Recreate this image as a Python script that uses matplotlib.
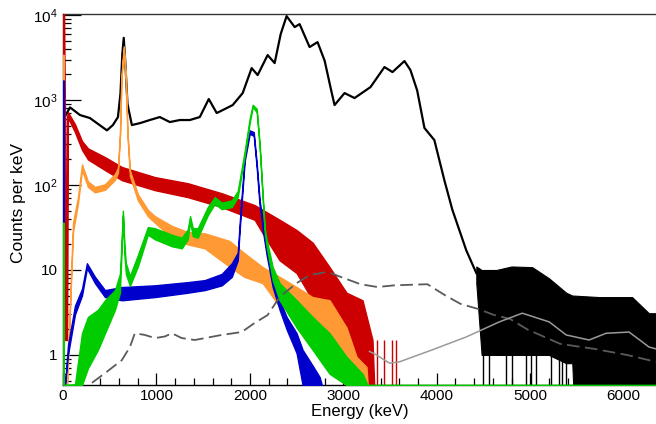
import numpy as np
import matplotlib
matplotlib.use('Agg')
import matplotlib.pyplot as plt
from matplotlib.ticker import FixedLocator, LogLocator, FuncFormatter, NullFormatter

plt.rcParams['font.family'] = ['Liberation Sans', 'DejaVu Sans']
plt.rcParams['mathtext.fontset'] = 'custom'
plt.rcParams['mathtext.rm'] = 'Liberation Sans'

# -- Spectra (energy in keV, counts per keV) --
# smooth part of the summed spectrum
black_e = [0, 75, 182, 288, 470, 534, 588, 615, 635, 650, 665, 690, 737, 823, 929,
           1036, 1143, 1250, 1357, 1464, 1560, 1645, 1816, 1923, 2019, 2083, 2190,
           2265, 2330, 2393, 2479, 2532, 2639, 2724, 2800, 2870, 2906, 3013, 3120,
           3291, 3440, 3526, 3654, 3718, 3790, 3868, 3974, 4081, 4167, 4316, 4423]
black_c = [580, 820, 666, 614, 440, 508, 630, 1200, 3500, 5400, 3000, 900, 508, 535,
           582, 631, 551, 582, 582, 631, 1028, 703, 873, 1208, 2378, 1968, 3383,
           2724, 6000, 9730, 7230, 7830, 4205, 4810, 2900, 1300, 873, 1208, 1056,
           1422, 2445, 2135, 2877, 2255, 1300, 469, 338, 114, 51, 17, 9.2]
# noisy high-energy tail of the summed spectrum
black_tail_e = [4423, 4480, 4637, 4800, 5021, 5200, 5385, 5450, 5460, 5737, 6090, 6270, 6346]
black_tail_lo = [7, 1, 1, 1, 1, 1, 0.8, 0.8, 0, 0, 0, 0, 0]
black_tail_hi = [11, 10, 10, 11, 10.8, 8, 5.4, 5, 5, 4.8, 4.8, 3.1, 3.1]
# empty bins inside the tail
black_zero_e = [4490, 4560, 4744, 4808, 4957, 5010, 5064, 5224, 5310, 5342, 5385]

red_e = [0, 8, 8, 42, 42, 53, 128, 203, 267, 449, 630, 983, 1335, 1699, 2051, 2137,
         2318, 2500, 2671, 2853, 3034, 3205, 3312, 3330]
red_lo = [0, 0, 1.5, 1.5, 1.5, 620, 420, 260, 200, 150, 114, 87, 72, 55, 39, 27,
          13, 9.2, 4.4, 2.1, 1.05, 0, 0, 0]
red_hi = [3e4, 3e4, 3e4, 1.5, 620, 720, 520, 330, 270, 213, 163, 124, 105, 80, 58, 51,
          39, 29.5, 21, 10.8, 5.4, 4.4, 1.5, 0]
red_spike_e = [3355, 3440, 3525, 3565]
red_spike_c = [1.5, 1.5, 1.5, 1.5]

orange_e = [0, 8, 8, 43, 107, 160, 203, 267, 342, 449, 556, 588, 610, 625, 650, 672,
            690, 716, 801, 908, 983, 1165, 1335, 1517, 1780, 1940, 2137, 2318, 2500,
            2671, 2853, 3034, 3141, 3248, 3260]
orange_lo = [0, 0, 0, 0, 28, 60, 150, 95, 82, 88, 115, 140, 380, 1700, 4000, 1700,
             380, 128, 66, 43, 36, 24, 20, 18, 11, 8.3, 7, 3.7, 3.1, 1.8, 1.05, 0.6,
             0, 0, 0]
orange_hi = [3400, 3400, 0, 0, 36, 72, 175, 110, 95, 102, 135, 160, 420, 1900, 4300,
             1900, 420, 148, 78, 51, 43, 33, 28, 27, 22, 15.8, 10.8, 8.3, 6.3, 4.8,
             4.4, 2.1, 0.95, 0.72, 0]

blue_e = [0, 8, 8, 21, 53, 128, 203, 256, 342, 449, 630, 983, 1335, 1517, 1699, 1806,
          1870, 1891, 1944, 1998, 2041, 2073, 2105, 2126, 2137, 2179, 2244, 2318, 2393,
          2500, 2564, 2671, 2746, 2770]
blue_lo = [0, 0, 0, 0, 1.0, 3.0, 5.0, 10.5, 7.0, 4.8, 4.4, 4.8, 5.4, 5.8, 6.6, 8.3,
           13, 30, 190, 400, 380, 160, 55, 40, 30, 15, 6.3, 3.4, 2.0, 1.05, 0, 0, 0, 0]
blue_hi = [1700, 1700, 0, 0, 1.3, 3.8, 6.0, 12, 8.3, 5.8, 6.3, 6.6, 7.2, 7.6, 9.0, 12,
           16, 36, 220, 440, 420, 180, 65, 46, 34, 17, 8.3, 4.4, 2.8, 1.8, 1.15, 0.75,
           0.55, 0]

green_e = [0, 8, 8, 128, 203, 267, 374, 449, 556, 609, 625, 641, 657, 673, 716, 801,
           908, 983, 1165, 1271, 1335, 1360, 1389, 1442, 1549, 1624, 1699, 1806, 1870,
           1944, 1998, 2030, 2073, 2105, 2126, 2158, 2179, 2244, 2318, 2500, 2671,
           2853, 3034, 3205, 3259, 6346]
green_lo = [0, 0, 0, 0, 0, 0.7, 1.15, 1.8, 3.4, 5.4, 15, 44, 15, 9, 6.5, 11, 26, 23,
            19, 18, 23, 37, 25, 24, 44, 60, 52, 55, 72, 220, 540, 830, 720, 270, 110,
            28, 19, 7.6, 4.4, 2.1, 1.15, 0.6, 0, 0, 0, 0]
green_hi = [36, 36, 0, 0.45, 1.8, 2.8, 3.4, 4.4, 5.8, 9, 20, 50, 20, 12, 8.5, 15, 32,
            31, 26, 24, 30, 43, 31, 31, 55, 72, 62, 66, 85, 250, 610, 880, 790, 300,
            120, 32, 23, 10.8, 7, 4.4, 2.8, 1.8, 0.95, 0.6, 0, 0]

dash_e = [310, 449, 630, 716, 769, 876, 983, 1090, 1165, 1271, 1410, 1699, 1912, 2051,
          2190, 2318, 2500, 2639, 2831, 2970, 3184, 3365, 3547, 3900, 4081, 4252,
          4434, 4615, 4786, 4968, 5321, 5684, 6036, 6346]
dash_c = [0.47, 0.61, 0.87, 1.24, 1.8, 1.72, 1.58, 1.65, 1.8, 1.58, 1.5, 1.72, 1.86,
          2.38, 2.95, 4.8, 7.0, 8.7, 9.5, 8.3, 6.8, 6.3, 6.6, 6.8, 5.1, 4.0, 3.5, 2.95,
          2.65, 2.0, 1.35, 1.18, 1.0, 0.83]

solid_e = [3280, 3355, 3494, 3600, 3953, 4316, 4669, 4915, 5203, 5385, 5630, 5812,
           6058, 6271, 6346]
solid_c = [1.1, 1.0, 0.8, 0.83, 1.15, 1.63, 2.45, 3.1, 2.45, 1.72, 1.5, 1.8, 1.86,
           1.24, 1.18]

XMAX = 6346
YMIN, YMAX = 0.443, 1.03e4

COL_BLACK = '#000000'
COL_RED = '#cc0000'
COL_ORANGE = '#ff9933'
COL_GREEN = '#00cc00'
COL_BLUE = '#0000cc'


def floor(v):
    # empty bins sit on the lower frame
    return np.maximum(np.asarray(v, dtype=float), YMIN)


def band(ax, e, lo, hi, color, z, lw=1.0):
    ax.fill_between(e, floor(lo), floor(hi), facecolor=color, edgecolor=color,
                    linewidth=lw, zorder=z)


fig = plt.figure(figsize=(6.56, 4.24), dpi=100)
ax = fig.add_axes([63 / 656, 39 / 424, 1 - 63 / 656, 371 / 424])

ax.plot(black_e, black_c, color=COL_BLACK, lw=1.6, zorder=3)
band(ax, black_tail_e, black_tail_lo, black_tail_hi, COL_BLACK, 3, lw=0.8)
ax.vlines(black_zero_e, YMIN, 1.0, color=COL_BLACK, lw=1.0, zorder=3)
band(ax, red_e, red_lo, red_hi, COL_RED, 4)
ax.vlines(red_spike_e, YMIN, red_spike_c, color=COL_RED, lw=1.0, zorder=4)
band(ax, orange_e, orange_lo, orange_hi, COL_ORANGE, 5)
band(ax, blue_e, blue_lo, blue_hi, COL_BLUE, 6)
band(ax, green_e, green_lo, green_hi, COL_GREEN, 7)
ax.plot(dash_e, floor(dash_c), color='#5a5a5a', lw=1.3, ls=(0, (7, 3)), zorder=8)
ax.plot(solid_e, solid_c, color='#9a9a9a', lw=1.1, zorder=8)

ax.set_yscale('log')
ax.set_xlim(0, XMAX)
ax.set_ylim(YMIN, YMAX)

ax.xaxis.set_major_locator(FixedLocator(np.arange(0, 7000, 1000)))
ax.xaxis.set_minor_locator(FixedLocator(np.arange(0, 6400, 200)))
ax.yaxis.set_major_locator(LogLocator(base=10, numticks=10))
ax.yaxis.set_minor_locator(LogLocator(base=10, subs=np.arange(2, 10), numticks=20))
ax.yaxis.set_minor_formatter(NullFormatter())


def ylab(v, pos):
    if v < 5:
        return '1'
    if v < 50:
        return '10'
    return r'$\mathregular{10^{%d}}$' % round(np.log10(v))


ax.yaxis.set_major_formatter(FuncFormatter(ylab))

ax.tick_params(axis='x', which='major', direction='in', length=8.5, width=0.9,
               labelsize=11, pad=3, top=False)
ax.tick_params(axis='x', which='minor', direction='in', length=5, width=0.9, top=False)
ax.tick_params(axis='y', which='major', direction='in', length=13, width=0.9,
               labelsize=11, pad=4, right=False)
ax.tick_params(axis='y', which='minor', direction='in', length=6, width=0.9, right=False)

ax.spines['right'].set_visible(False)
for s in ('left', 'bottom', 'top'):
    ax.spines[s].set_linewidth(1.0)
    ax.spines[s].set_zorder(2)
ax.spines['top'].set_color('#333333')

ax.set_xlabel('Energy (keV)', fontsize=12)
ax.set_ylabel('Counts per keV', fontsize=12.5)
ax.xaxis.set_label_coords(0.5, -0.052)
ax.yaxis.set_label_coords(-0.062, 0.49)

fig.savefig('out.png', dpi=100)
